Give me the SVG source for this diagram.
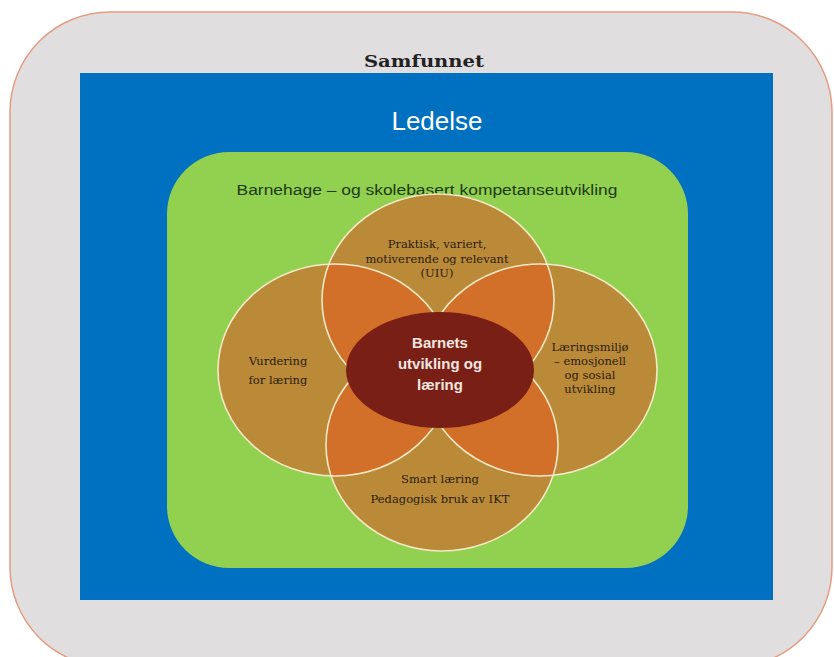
<svg xmlns="http://www.w3.org/2000/svg" width="834" height="657" viewBox="0 0 834 657">
  <style>
    .slab { font-family: "DejaVu Serif", "Liberation Serif", serif; fill: #2a2010; font-size: 11.5px; text-anchor: middle; }
    .circ { fill: #BA8A38; }
    .ovl { fill: #D2702A; }
    .edge { fill: none; stroke: #F3E9C6; stroke-width: 1.6; }
  </style>
  <defs>
    <clipPath id="clipTop"><ellipse cx="438" cy="300" rx="116" ry="106"/></clipPath>
    <clipPath id="clipBottom"><ellipse cx="442" cy="445" rx="116" ry="106"/></clipPath>
  </defs>
  <rect width="834" height="657" fill="#ffffff"/>
  <g id="samfunnet">
    <rect x="10" y="12" width="822" height="655" rx="100" ry="100" fill="#E0DEDF" stroke="#E59C80" stroke-width="1.5"/>
    <text x="424" y="67" font-family="DejaVu Serif, Liberation Serif, serif" font-size="17" font-weight="bold" fill="#222" text-anchor="middle" textLength="120" lengthAdjust="spacingAndGlyphs">Samfunnet</text>
  </g>
  <g id="ledelse">
    <rect x="80" y="73" width="693" height="527" fill="#0070C0"/>
    <text x="437" y="130" font-family="Liberation Sans, Arial, sans-serif" font-size="26" fill="#ffffff" text-anchor="middle">Ledelse</text>
  </g>
  <g id="kompetanse">
    <rect x="167" y="152" width="521" height="416" rx="62" ry="62" fill="#92D050"/>
    <text x="427" y="195" font-family="Liberation Sans, Arial, sans-serif" font-size="14" fill="#1E3A10" text-anchor="middle" textLength="381" lengthAdjust="spacingAndGlyphs">Barnehage – og skolebasert kompetanseutvikling</text>
  </g>
  <g id="circles">
    <ellipse class="circ" cx="438" cy="300" rx="116" ry="106"/>
    <ellipse class="circ" cx="442" cy="445" rx="116" ry="106"/>
    <ellipse class="circ" cx="335" cy="370" rx="117" ry="106"/>
    <ellipse class="circ" cx="540" cy="370" rx="117" ry="106"/>
    <g clip-path="url(#clipTop)">
      <ellipse class="ovl" cx="335" cy="370" rx="117" ry="106"/>
      <ellipse class="ovl" cx="540" cy="370" rx="117" ry="106"/>
    </g>
    <g clip-path="url(#clipBottom)">
      <ellipse class="ovl" cx="335" cy="370" rx="117" ry="106"/>
      <ellipse class="ovl" cx="540" cy="370" rx="117" ry="106"/>
    </g>
    <ellipse class="edge" cx="438" cy="300" rx="116" ry="106"/>
    <ellipse class="edge" cx="442" cy="445" rx="116" ry="106"/>
    <ellipse class="edge" cx="335" cy="370" rx="117" ry="106"/>
    <ellipse class="edge" cx="540" cy="370" rx="117" ry="106"/>
  </g>
  <g id="praktisk">
    <text class="slab" x="437" y="248">Praktisk, variert,</text>
    <text class="slab" x="437" y="263">motiverende og relevant</text>
    <text class="slab" x="437" y="277">(UIU)</text>
  </g>
  <g id="vurdering">
    <text class="slab" x="278" y="365">Vurdering</text>
    <text class="slab" x="278" y="384">for læring</text>
  </g>
  <g id="laeringsmiljo">
    <text class="slab" x="590" y="351">Læringsmiljø</text>
    <text class="slab" x="590" y="365">– emosjonell</text>
    <text class="slab" x="590" y="379">og sosial</text>
    <text class="slab" x="590" y="393">utvikling</text>
  </g>
  <g id="smart">
    <text class="slab" x="440" y="483">Smart læring</text>
    <text class="slab" x="440" y="503">Pedagogisk bruk av IKT</text>
  </g>
  <g id="barnets">
    <ellipse cx="440" cy="370" rx="94" ry="58" fill="#7A1F15"/>
    <text x="440" y="348" font-family="Liberation Sans, Arial, sans-serif" font-size="15" font-weight="bold" fill="#F2E6E0" text-anchor="middle">Barnets</text>
    <text x="440" y="369" font-family="Liberation Sans, Arial, sans-serif" font-size="15" font-weight="bold" fill="#F2E6E0" text-anchor="middle">utvikling og</text>
    <text x="440" y="390" font-family="Liberation Sans, Arial, sans-serif" font-size="15" font-weight="bold" fill="#F2E6E0" text-anchor="middle">læring</text>
  </g>
</svg>
